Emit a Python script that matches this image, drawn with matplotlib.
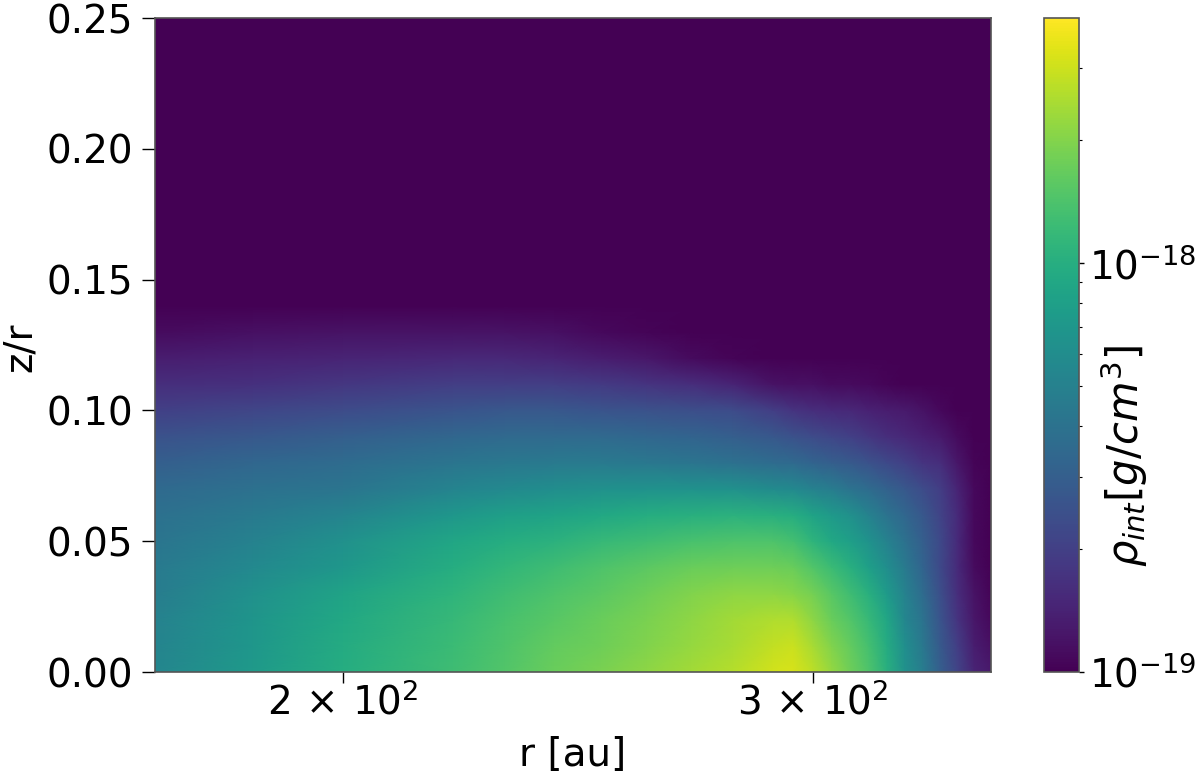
import numpy as np
import matplotlib
matplotlib.use("Agg")
import matplotlib.pyplot as plt
from matplotlib.colors import LogNorm

rho_min = 1e-19
rho_max = 10 ** -17.4

# radius [au] and z/r of the grid
r_au = [170, 185, 200, 220, 230, 240, 250, 260, 270, 280, 290, 295,
        300, 305, 310, 315, 320, 325, 330, 335, 340, 345, 350]
z_r = [0.0, 0.01, 0.02, 0.03, 0.04, 0.05, 0.06, 0.07, 0.08, 0.09, 0.10, 0.11, 0.12, 0.13, 0.14, 0.25]

# rho_int per row of z/r, given as position along the colorbar (0 = rho_min, 1 = rho_max)
row_z000 = [.46, .54, .62, .69, .73, .77, .80, .83, .86, .89, .93, .94, .90, .84, .78, .72, .63, .50, .42, .30, .20, .10, .07]
row_z001 = [.45, .53, .61, .68, .72, .76, .78, .81, .84, .87, .91, .92, .87, .81, .76, .70, .61, .49, .40, .28, .18, .08, .04]
row_z002 = [.44, .52, .60, .67, .71, .74, .77, .80, .83, .86, .88, .88, .83, .77, .73, .67, .59, .46, .38, .26, .15, .06, .02]
row_z003 = [.42, .50, .58, .65, .69, .72, .75, .78, .81, .83, .83, .82, .79, .74, .69, .63, .54, .44, .35, .24, .13, .05, .01]
row_z004 = [.41, .47, .53, .62, .66, .69, .72, .75, .77, .78, .78, .77, .73, .68, .63, .56, .49, .41, .32, .22, .12, .03, 0]
row_z005 = [.39, .44, .50, .59, .62, .64, .67, .69, .71, .72, .72, .70, .65, .60, .56, .51, .44, .37, .30, .22, .12, .02, 0]
row_z006 = [.37, .41, .45, .53, .56, .58, .60, .62, .63, .64, .63, .62, .58, .54, .50, .44, .38, .33, .27, .20, .12, .02, 0]
row_z007 = [.34, .37, .39, .45, .47, .49, .50, .51, .51, .50, .48, .47, .44, .42, .38, .35, .31, .27, .23, .18, .10, .02, 0]
row_z008 = [.30, .33, .35, .39, .40, .41, .41, .40, .39, .37, .35, .34, .32, .30, .28, .25, .22, .19, .15, .13, .06, .01, 0]
row_z009 = [.25, .27, .30, .33, .34, .34, .34, .33, .32, .30, .27, .25, .23, .21, .19, .16, .13, .11, .09, .07, .03, 0, 0]
row_z010 = [.19, .21, .23, .26, .27, .27, .26, .25, .24, .23, .18, .15, .13, .12, .11, .09, .08, .07, .05, .02, 0, 0, 0]
row_z011 = [.13, .14, .16, .18, .18, .18, .17, .15, .13, .10, .05, .04, .04, .03, .03, .02, .01, 0, 0, 0, 0, 0, 0]
row_z012 = [.08, .09, .10, .11, .11, .10, .08, .06, .03, .01, 0, 0, 0, 0, 0, 0, 0, 0, 0, 0, 0, 0, 0]
row_z013 = [.03, .04, .05, .05, .05, .04, .02, .01, 0, 0, 0, 0, 0, 0, 0, 0, 0, 0, 0, 0, 0, 0, 0]
row_z014 = [0, 0, 0, 0, 0, 0, 0, 0, 0, 0, 0, 0, 0, 0, 0, 0, 0, 0, 0, 0, 0, 0, 0]
row_z025 = [0, 0, 0, 0, 0, 0, 0, 0, 0, 0, 0, 0, 0, 0, 0, 0, 0, 0, 0, 0, 0, 0, 0]

xtick_vals = [200, 300]
xtick_labels = [r"$\mathdefault{2\,\times\,10^{2}}$", r"$\mathdefault{3\,\times\,10^{2}}$"]
ytick_vals = [0.0, 0.05, 0.10, 0.15, 0.20, 0.25]
ytick_labels = ["0.00", "0.05", "0.10", "0.15", "0.20", "0.25"]

frac = np.array([row_z000, row_z001, row_z002, row_z003, row_z004, row_z005, row_z006, row_z007,
                 row_z008, row_z009, row_z010, row_z011, row_z012, row_z013, row_z014, row_z025])
rho = rho_min * (rho_max / rho_min) ** frac

fig = plt.figure(figsize=(12, 7.75), dpi=100)
ax = fig.add_axes([155 / 1200, 1 - 672 / 775, 836 / 1200, 654 / 775])
cax = fig.add_axes([1044 / 1200, 1 - 672 / 775, 35 / 1200, 654 / 775])

mesh = ax.pcolormesh(r_au, z_r, rho, shading="gouraud", cmap="viridis",
                     norm=LogNorm(vmin=rho_min, vmax=rho_max), rasterized=True)
ax.set_xscale("log")
ax.set_xlim(170, 350)
ax.set_ylim(0, 0.25)
ax.set_xticks(xtick_vals, xtick_labels, minor=True)
ax.set_xticks([], minor=False)
ax.set_yticks(ytick_vals, ytick_labels)
ax.tick_params(axis="both", which="both", labelsize=28, width=1)
ax.tick_params(axis="y", which="major", length=9.5, pad=6)
ax.tick_params(axis="x", which="minor", length=8, pad=0)

ax.set_xlabel("r [au]", fontsize=28)
ax.xaxis.set_label_coords(0.5, -0.098)
ax.set_ylabel("z/r", fontsize=28)
ax.yaxis.set_label_coords(-0.139, 0.497)
for s in ax.spines.values():
    s.set_color("#555555")
    s.set_linewidth(1.2)

cbar = fig.colorbar(mesh, cax=cax)
cbar.set_label(r"$\rho_{int} [g/cm^3]$", fontsize=30)
cbar.ax.yaxis.set_label_coords(1.57, 0.33)
cbar.ax.tick_params(which="major", labelsize=28, length=3.5, width=1)
cbar.ax.tick_params(which="minor", length=2, width=0.8)
cbar.outline.set_edgecolor("#555555")
cbar.outline.set_linewidth(1.2)

fig.savefig("out.png", dpi=100)
